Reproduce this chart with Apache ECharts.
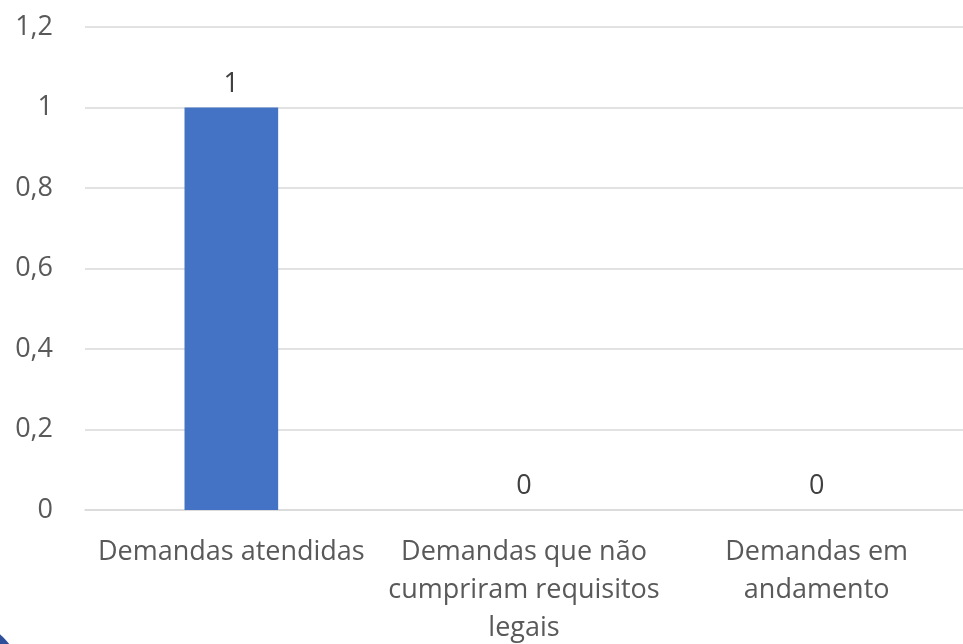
<!DOCTYPE html>
<html><head><meta charset="utf-8">
<script src="https://cdn.jsdelivr.net/npm/echarts@6/dist/echarts.min.js"></script>
<style>html,body{margin:0;padding:0;background:#fff}#c{width:963px;height:644px}</style>
</head><body><div id="c"></div>
<script>
const categories = ["Demandas atendidas", "Demandas que não\ncumpriram requisitos\nlegais", "Demandas em\nandamento"];
const values = [1, 0, 0];
const yTicks = [0, 0.2, 0.4, 0.6, 0.8, 1, 1.2];

const chart = echarts.init(document.getElementById('c'), null, {renderer: 'canvas'});
const font = "'Open Sans', sans-serif";
chart.setOption({
  animation: false,
  grid: {left: 85, right: 0, top: 27, bottom: 134, containLabel: false, outerBoundsMode: 'none'},
  xAxis: {
    type: 'category', data: categories,
    axisLine: {lineStyle: {color: '#d9d9d9', width: 1.5}},
    axisTick: {show: false},
    axisLabel: {color: '#595959', fontSize: 27, fontFamily: font, margin: 23, lineHeight: 38, interval: 0}
  },
  yAxis: {
    type: 'value', min: 0, max: 1.2, interval: 0.2,
    axisLine: {show: false}, axisTick: {show: false},
    splitLine: {lineStyle: {color: '#d9d9d9', width: 1.5}},
    axisLabel: {color: '#595959', fontSize: 27, fontFamily: font, margin: 32,
      formatter: v => String(Math.round(v * 10) / 10).replace('.', ',')}
  },
  series: [{
    type: 'bar', data: values, barWidth: '32%',
    itemStyle: {color: '#4472C4'},
    label: {show: true, position: 'top', distance: 10, color: '#404040', fontSize: 27, fontFamily: font}
  }],
  graphic: [{type: 'circle', shape: {cx: -60, cy: 700, r: 89}, style: {fill: '#2F4F9A'}, silent: true}]
});
</script></body></html>
